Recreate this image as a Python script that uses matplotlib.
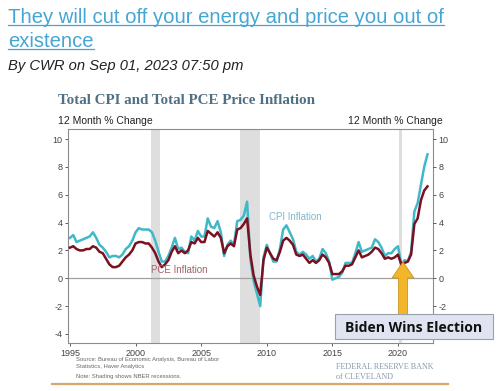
import numpy as np
import matplotlib
matplotlib.use("Agg")
import matplotlib.pyplot as plt
from matplotlib.patches import Rectangle, FancyArrow

# quarterly 12-month % change, 1995Q1 .. 2022Q2
cpi = [
    2.9, 3.1, 2.6, 2.7,   # 1995
    2.8, 2.9, 3.0, 3.3,   # 1996
    2.9, 2.4, 2.2, 1.9,   # 1997
    1.5, 1.6, 1.6, 1.5,   # 1998
    1.7, 2.1, 2.3, 2.7,   # 1999
    3.3, 3.6, 3.5, 3.5,   # 2000
    3.5, 3.3, 2.7, 1.9,   # 2001
    1.2, 1.2, 1.6, 2.2,   # 2002
    2.9, 2.1, 2.2, 1.9,   # 2003
    1.8, 3.0, 2.7, 3.4,   # 2004
    3.0, 3.0, 4.3, 3.7,   # 2005
    3.6, 4.1, 3.3, 1.6,   # 2006
    2.4, 2.7, 2.4, 4.1,   # 2007
    4.2, 4.5, 5.5, 1.4,   # 2008
    -0.2, -1.1, -2.0, 1.5,  # 2009
    2.4, 1.8, 1.2, 1.2,   # 2010
    2.1, 3.5, 3.8, 3.3,   # 2011
    2.8, 1.9, 1.7, 1.9,   # 2012
    1.7, 1.4, 1.6, 1.2,   # 2013
    1.4, 2.1, 1.8, 1.2,   # 2014
    -0.1, 0.0, 0.1, 0.4,  # 2015
    1.1, 1.1, 1.1, 1.8,   # 2016
    2.6, 1.9, 2.0, 2.1,   # 2017
    2.2, 2.8, 2.6, 2.2,   # 2018
    1.6, 1.8, 1.8, 2.1,   # 2019
    2.3, 1.0, 1.3, 1.2,   # 2020
    1.9, 4.8, 5.4, 6.7,   # 2021
    8.0, 8.9,             # 2022
]
pce = [
    2.2, 2.3, 2.1, 2.0,
    2.0, 2.1, 2.1, 2.3,
    2.2, 1.9, 1.8, 1.4,
    1.0, 0.8, 0.8, 0.9,
    1.2, 1.5, 1.7, 2.0,
    2.5, 2.6, 2.6, 2.5,
    2.5, 2.2, 1.8, 1.2,
    0.8, 1.0, 1.3, 1.9,
    2.3, 1.8, 2.0, 1.8,
    2.0, 2.6, 2.5, 2.9,
    2.6, 2.6, 3.4, 3.2,
    3.0, 3.3, 2.9, 1.8,
    2.3, 2.5, 2.3, 3.5,
    3.6, 3.9, 4.3, 1.7,
    0.2, -0.6, -1.2, 1.3,
    2.2, 1.8, 1.4, 1.3,
    1.9, 2.7, 2.9, 2.7,
    2.4, 1.7, 1.6, 1.7,
    1.4, 1.1, 1.3, 1.1,
    1.3, 1.7, 1.5, 1.1,
    0.3, 0.3, 0.3, 0.5,
    0.9, 0.9, 1.0, 1.5,
    2.0, 1.5, 1.6, 1.7,
    1.9, 2.2, 2.1, 1.8,
    1.4, 1.5, 1.4, 1.5,
    1.7, 1.0, 1.1, 1.2,
    1.7, 3.9, 4.3, 5.6,
    6.3, 6.6,
]
years = 1995 + np.arange(len(cpi)) / 4

recessions = [(2001.2, 2001.85), (2007.95, 2009.45), (2020.1, 2020.3)]
yticks = [10, 8, 6, 4, 2, 0, -2, -4]
yticks_right = [10, 8, 6, 4, 2, 0, -2]   # -4 sits under the annotation box
xticks = [1995, 2000, 2005, 2010, 2015, 2020]

plt.rcParams['font.family'] = ['Liberation Sans', 'DejaVu Sans']
plt.rcParams['axes.unicode_minus'] = False

W, H = 500, 391
fig = plt.figure(figsize=(5, 3.91), dpi=100)
fig.patch.set_facecolor("white")

# chart axes, placed in pixels
ax = fig.add_axes([68 / W, 1 - 343 / H, (433 - 68) / W, (343 - 129) / H])
ax.set_xlim(1994.85, 2022.67)
ax.set_ylim(-4.65, 10.72)
for a, b in recessions:
    ax.axvspan(a, b, color="#dedede", lw=0, zorder=0)
ax.axhline(0, color="#a0a0a0", lw=0.9, zorder=1)
ax.plot(years, cpi, color="#3fb8c8", lw=1.8, zorder=2)
ax.plot(years, pce, color="#7a1020", lw=1.8, zorder=3)
ax.text(2003.3, 0.6, "PCE Inflation", color="#a0646a", fontsize=7, ha="center", va="center")
ax.text(2012.2, 4.4, "CPI Inflation", color="#7fb9c9", fontsize=7, ha="center", va="center")

ax.set_yticks(yticks)
ax.set_xticks(xticks)
ax.tick_params(labelsize=6.5, colors="#444444", length=2, width=0.6, pad=2)
for s in ax.spines.values():
    s.set_color("#8c8c8c")
    s.set_linewidth(0.8)

ax2 = ax.twinx()
ax2.set_ylim(ax.get_ylim())
ax2.set_yticks(yticks_right)
ax2.tick_params(labelsize=6.5, colors="#444444", length=2, width=0.6, pad=2)
for s in ax2.spines.values():
    s.set_visible(False)

# overlay in pixel coords for page text and annotation
ov = fig.add_axes([0, 0, 1, 1])
ov.set_xlim(0, W)
ov.set_ylim(H, 0)
ov.axis("off")
ov.patch.set_alpha(0)

link = "#45a6d3"
t1 = ov.text(8, 23, "They will cut off your energy and price you out of",
             color=link, fontsize=14.6, va="baseline")
t2 = ov.text(8, 47, "existence", color=link, fontsize=14.6, va="baseline")
ov.text(8, 70, "By CWR on Sep 01, 2023 07:50 pm", color="#222222",
        fontsize=10.6, style="italic", va="baseline")

ov.text(58, 104, "Total CPI and Total PCE Price Inflation", family="Liberation Serif",
        fontweight="bold", fontsize=10.8, color="#4f6f84", va="baseline")
ov.text(58, 124, "12 Month % Change", fontsize=7.5, color="#222222", va="baseline")
ov.text(443, 124, "12 Month % Change", fontsize=7.5, color="#222222", va="baseline", ha="right")

src = "#666666"
ov.text(76, 361, "Source: Bureau of Economic Analysis, Bureau of Labor",
        fontsize=4.2, color=src, va="baseline")
ov.text(76, 368, "Statistics, Haver Analytics", fontsize=4.2, color=src, va="baseline")
ov.text(76, 378, "Note: Shading shows NBER recessions.", fontsize=4.2, color=src, va="baseline")
ov.text(336, 369, "FEDERAL RESERVE BANK", family="Liberation Serif", fontsize=5.9,
        color="#8a99a8", va="baseline")
ov.text(336, 379, "of CLEVELAND", family="Liberation Serif", fontsize=5.9,
        color="#8a99a8", va="baseline")
ov.plot([52, 448], [384, 384], color="#d8a56c", lw=1.6)

# Biden annotation
ov.add_patch(FancyArrow(403, 315, 0, -53, width=9, head_width=22, head_length=16,
                        length_includes_head=True, fc="#f3b62b", ec="#c9951f", lw=0.6, zorder=4))
ov.add_patch(Rectangle((335, 314), 158, 25, fc="#dfe4f0", ec="#9ba1ab", lw=0.8, zorder=5))
ov.text(414, 327.5, "Biden Wins Election", family="Open Sans", fontweight="bold",
        fontsize=10.1, color="#111111", ha="center", va="center", zorder=6)

# underline the link text
fig.canvas.draw()
for t in (t1, t2):
    bb = t.get_window_extent()
    yy = t.get_position()[1] + 2
    ov.plot([bb.x0, bb.x1], [yy, yy], color=link, lw=0.9)

fig.savefig("out.png", dpi=100)
